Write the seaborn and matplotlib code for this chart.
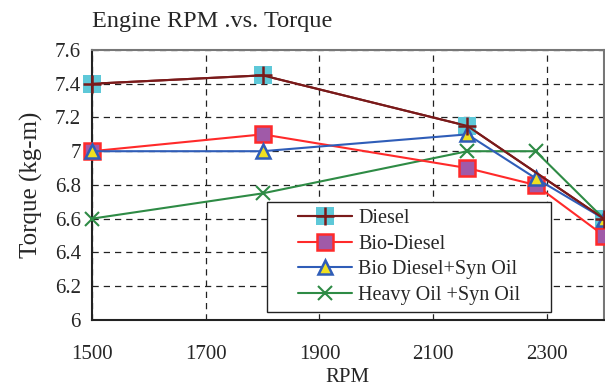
import matplotlib
matplotlib.use("Agg")
import matplotlib.pyplot as plt
import seaborn as sns
import pandas as pd
from matplotlib.lines import Line2D
from matplotlib.patches import Rectangle
from matplotlib.legend_handler import HandlerTuple

rpm_diesel = [1500, 1800, 2160, 2400]
tq_diesel = [7.40, 7.45, 7.15, 6.60]
rpm_bio = [1500, 1800, 2160, 2280, 2400]
tq_bio = [7.00, 7.10, 6.90, 6.80, 6.50]
rpm_bio_syn = [1500, 1800, 2160, 2280, 2400]
tq_bio_syn = [7.00, 7.00, 7.10, 6.84, 6.60]
rpm_heavy = [1500, 1800, 2160, 2280, 2400]
tq_heavy = [6.60, 6.75, 7.00, 7.00, 6.60]
labels = ["Diesel", "Bio-Diesel", "Bio Diesel+Syn Oil", "Heavy Oil +Syn Oil"]
x_ticks = [1500, 1700, 1900, 2100, 2300]
y_ticks = [6, 6.2, 6.4, 6.6, 6.8, 7, 7.2, 7.4, 7.6]

sns.set_style("white")
plt.rcParams['font.family'] = ['Liberation Serif', 'DejaVu Serif']

fig = plt.figure(figsize=(6.05, 3.91), dpi=100)
ax = fig.add_axes([0.152, 0.182, 0.846, 0.69])

c_diesel = "#7a1a1a"
c_bio = "#ff2a2a"
c_bs = "#2f5db8"
c_heavy = "#2e8b45"

df_d = pd.DataFrame({"x": rpm_diesel, "y": tq_diesel})
df_b = pd.DataFrame({"x": rpm_bio, "y": tq_bio})
df_bs = pd.DataFrame({"x": rpm_bio_syn, "y": tq_bio_syn})
df_h = pd.DataFrame({"x": rpm_heavy, "y": tq_heavy})

sns.lineplot(data=df_h, x="x", y="y", ax=ax, color=c_heavy, lw=1.5, marker="x",
             markersize=10, markeredgewidth=1.5, markeredgecolor=c_heavy, zorder=3, clip_on=False)
sns.lineplot(data=df_bs, x="x", y="y", ax=ax, color=c_bs, lw=1.5, marker="^",
             markersize=10, markerfacecolor="#f0e020", markeredgecolor=c_bs,
             markeredgewidth=1.8, zorder=4, clip_on=False)
sns.lineplot(data=df_b, x="x", y="y", ax=ax, color=c_bio, lw=1.5, marker="s",
             markersize=11, markerfacecolor="#a05aa8", markeredgecolor=c_bio,
             markeredgewidth=1.8, zorder=3.5, clip_on=False)
sns.lineplot(data=df_d, x="x", y="y", ax=ax, color=c_diesel, lw=1.5, marker="s",
             markersize=13, markerfacecolor="#5ec8d8", markeredgecolor="#5ec8d8",
             markeredgewidth=0, zorder=2.5, clip_on=False)
sns.lineplot(data=df_d, x="x", y="y", ax=ax, color=c_diesel, lw=1.5, marker="+",
             markersize=13, markeredgecolor=c_diesel, markeredgewidth=1.8, zorder=5, clip_on=False)

ax.set_xlim(1500, 2400)
ax.set_ylim(6, 7.6)
ax.set_xticks(x_ticks)
ax.set_yticks(y_ticks)
ax.set_yticklabels([("%g" % v) for v in y_ticks])
ax.grid(True, color="#222222", linestyle=(0, (5, 4)), linewidth=0.9)
ax.tick_params(axis="x", direction="in", length=5, pad=18, labelsize=15)
ax.tick_params(axis="y", direction="in", length=0, pad=8, labelsize=15)
for s in ["left", "bottom"]:
    ax.spines[s].set_color("#222222")
    ax.spines[s].set_linewidth(1.5)
for s in ["top", "right"]:
    ax.spines[s].set_color("#777777")
    ax.spines[s].set_linewidth(1.5)

ax.set_xlabel("RPM", fontsize=15, labelpad=3)
ax.set_ylabel("Torque (kg-m)", fontsize=18, labelpad=8)
fig.text(0.152, 0.945, "Engine RPM .vs. Torque", fontsize=17.5, ha="left", va="center")

h_d = (Line2D([], [], color=c_diesel, lw=1.5, marker="s", markersize=13,
              markerfacecolor="#5ec8d8", markeredgewidth=0),
       Line2D([], [], color=c_diesel, lw=1.5, marker="+", markersize=13,
              markeredgecolor=c_diesel, markeredgewidth=1.8))
h_b = Line2D([], [], color=c_bio, lw=1.5, marker="s", markersize=11,
             markerfacecolor="#a05aa8", markeredgecolor=c_bio, markeredgewidth=1.8)
h_bs = Line2D([], [], color=c_bs, lw=1.5, marker="^", markersize=10,
              markerfacecolor="#f0e020", markeredgecolor=c_bs, markeredgewidth=1.8)
h_h = Line2D([], [], color=c_heavy, lw=1.5, marker="x", markersize=10,
             markeredgecolor=c_heavy, markeredgewidth=1.5)
leg = ax.legend([h_d, h_b, h_bs, h_h], labels,
                handler_map={tuple: HandlerTuple(ndivide=1, pad=0)},
                loc="lower left", bbox_to_anchor=(0.388, 0.03), fontsize=14.5,
                frameon=False, handlelength=2.7, borderpad=0.35,
                labelspacing=0.32, handletextpad=0.3, borderaxespad=0)
leg.set_zorder(10)

fig.canvas.draw()
bb = leg.get_window_extent()
inv = ax.transAxes.inverted()
(x0, y0), (x1, y1) = inv.transform([[bb.x0 - 24, bb.y0], [bb.x1 + 24, bb.y1]])
rect = Rectangle((x0, y0), x1 - x0, y1 - y0, transform=ax.transAxes,
                 facecolor="white", edgecolor="#222222", linewidth=1.0,
                 zorder=9, clip_on=False)
ax.add_patch(rect)

fig.savefig("out.png", dpi=100)
